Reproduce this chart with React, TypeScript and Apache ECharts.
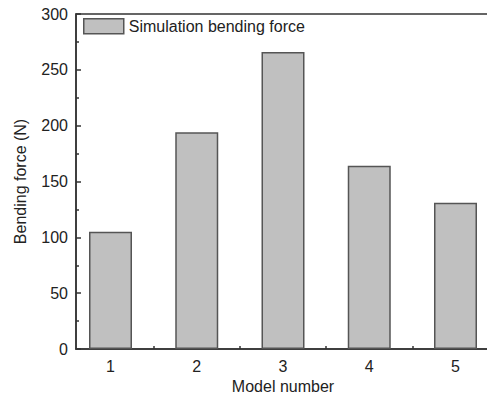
import React, { useEffect, useRef } from "react";
import * as echarts from "echarts";

const models = [1, 2, 3, 4, 5];
const forces = [105, 194, 266, 164, 131];
const seriesName = "Simulation bending force";
const xMajorTicks = [1, 2, 3, 4, 5];
const xMinorTicks = [1.5, 2.5, 3.5, 4.5];

export default function App() {
  const ref = useRef<HTMLDivElement>(null);
  useEffect(() => {
    if (!ref.current) return;
    const chart = echarts.init(ref.current, null, { renderer: "svg" });
    const font = "Arial, 'Liberation Sans', sans-serif";
    const axisColor = "#333";
    chart.setOption({
      animation: false,
      textStyle: { fontFamily: font },
      grid: {
        left: 76,
        top: 14,
        right: -3,
        bottom: 45,
        containLabel: false,
        outerBoundsMode: "none",
        show: true,
        borderColor: axisColor,
        borderWidth: 1.5,
        backgroundColor: "transparent",
      },
      legend: {
        left: 83,
        top: 18,
        padding: 0,
        itemWidth: 40,
        itemHeight: 15,
        itemGap: 6,
        icon: "rect",
        textStyle: { fontSize: 16, color: "#222", fontFamily: font },
        data: [{ name: seriesName, icon: "rect", itemStyle: { color: "#c0c0c0", borderColor: "#555", borderWidth: 1.5 } }],
      },
      xAxis: [
        {
          type: "value",
          min: 0.6,
          max: 5.4,
          name: "Model number",
          nameLocation: "middle",
          nameGap: 27,
          nameTextStyle: { fontSize: 16, color: "#222" },
          axisLine: { show: true, lineStyle: { color: axisColor, width: 1.5 } },
          axisTick: { show: true, inside: true, length: 5, lineStyle: { color: axisColor, width: 1.5 }, customValues: xMajorTicks },
          axisLabel: { fontSize: 16, color: "#222", margin: 9, customValues: xMajorTicks },
          splitLine: { show: false },
        },
        {
          type: "value",
          min: 0.6,
          max: 5.4,
          position: "bottom",
          axisLine: { show: false },
          axisTick: { show: true, inside: true, length: 3, lineStyle: { color: axisColor, width: 1.5 }, customValues: xMinorTicks },
          axisLabel: { show: false },
          splitLine: { show: false },
        },
      ],
      yAxis: {
        type: "value",
        min: 0,
        max: 300,
        interval: 50,
        name: "Bending force (N)",
        nameLocation: "middle",
        nameGap: 48,
        nameTextStyle: { fontSize: 16, color: "#222" },
        axisLine: { show: true, lineStyle: { color: axisColor, width: 1.5 } },
        axisTick: { show: true, inside: true, length: 5, lineStyle: { color: axisColor, width: 1.5 } },
        minorTick: { show: true, splitNumber: 2, length: 3, lineStyle: { color: axisColor, width: 1.5 } },
        axisLabel: { fontSize: 16, color: "#222", margin: 8 },
        splitLine: { show: false },
        minorSplitLine: { show: false },
      },
      series: [
        {
          name: seriesName,
          type: "bar",
          xAxisIndex: 0,
          barWidth: 43,
          data: models.map((m, i) => [m, forces[i]]),
          itemStyle: { color: "#c0c0c0", borderColor: "#555", borderWidth: 1.5 },
        },
      ],
    });
    return () => chart.dispose();
  }, []);
  return <div ref={ref} style={{ width: 487, height: 394, position: "absolute", left: 0, top: 0 }} />;
}
